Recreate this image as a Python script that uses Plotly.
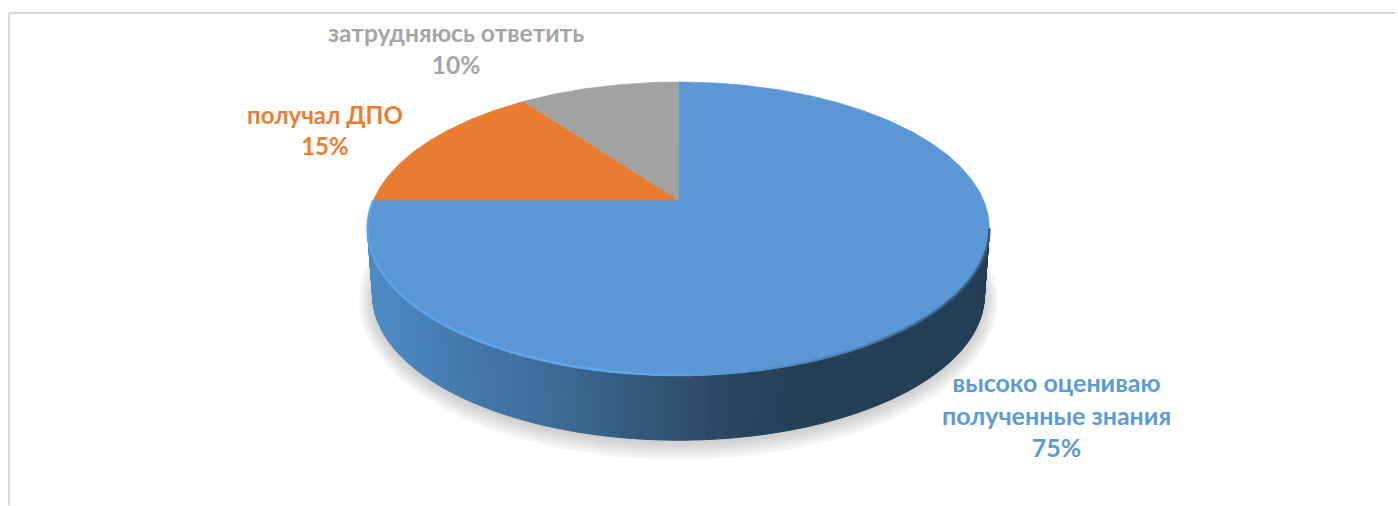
import numpy as np
import plotly.graph_objects as go

# ---- data ----
categories = ["высоко оцениваю<br>полученные знания", "получал ДПО", "затрудняюсь ответить"]
values = [75, 15, 10]
slice_colors = ["#5b97d5", "#e97c30", "#a2a2a2"]
label_colors = ["#5b9bd5", "#ed7d31", "#a5a5a5"]
label_x = [1056, 325, 456]
label_y = [414, 130, 48]
label_sizes = [25, 24, 24.6]

# ---- view geometry (perspective projection of the disc) ----
W, H = 1398, 506
CX, CY = 678.5, 200.0
A, C, K = 305.0, 141.0, 0.1945
A2, C2, CY2 = 300.0, 139.5, 267.0


def project(theta, a=A, c=C, cy=CY, grow=0.0):
    """theta: radians clockwise from 12 o'clock"""
    X, Y = np.sin(theta), np.cos(theta)
    d = 1 + K * Y
    return CX + (a + grow) * X / d, cy - (c + grow) * Y / d


def mix(stops, x):
    xs = [s[0] for s in stops]
    r = np.interp(x, xs, [s[1][0] for s in stops])
    g = np.interp(x, xs, [s[1][1] for s in stops])
    b = np.interp(x, xs, [s[1][2] for s in stops])
    return f"rgb({r:.0f},{g:.0f},{b:.0f})"


wall_stops = [(370, (78, 138, 197)), (470, (66, 120, 170)), (560, (60, 106, 148)),
              (680, (47, 80, 112)), (725, (41, 70, 99)), (790, (37, 63, 88)), (990, (36, 62, 85))]
rim_stops = [(365, (92, 165, 235)), (640, (98, 170, 238)), (730, (91, 151, 213)),
             (840, (80, 132, 186)), (930, (62, 108, 154)), (990, (52, 90, 128))]

fig = go.Figure()


def poly(x, y, color, line=0.0):
    fig.add_trace(go.Scatter(
        x=x, y=y, mode="lines", fill="toself", fillcolor=color,
        line=dict(color=color, width=line) if line else dict(width=0),
        hoverinfo="skip", showlegend=False))


fractions = np.cumsum([0] + values) / sum(values)
angles = fractions * 2 * np.pi
# the disc's silhouette turns at the widest point of the projected rim
turn = np.arccos(-K)

# soft shadow under the body
ring = np.linspace(0, 2 * np.pi, 240)
for g in np.arange(14, 0, -1.5):
    sx, sy = project(ring, A2, C2, CY2 + 3, grow=g)
    poly(sx, sy, "rgba(110,110,110,0.035)")

# side wall: only the front arc of the largest slice is visible
front = np.linspace(turn, 2 * np.pi - turn, 200)
for t0, t1 in zip(front[:-1], front[1:]):
    tx0, ty0 = project(np.array([t0, t1]))
    bx0, by0 = project(np.array([t0, t1]), A2, C2, CY2)
    poly([tx0[0], tx0[1], bx0[1], bx0[0], tx0[0]],
         [ty0[0], ty0[1], by0[1], by0[0], ty0[0]],
         mix(wall_stops, (tx0[0] + tx0[1]) / 2), line=1.0)

# top face slices
for i, col in enumerate(slice_colors):
    th = np.linspace(angles[i], angles[i + 1], max(int(values[i] * 6), 12))
    rx, ry = project(th)
    poly(np.r_[CX, rx, CX], np.r_[CY, ry, CY], col, line=0.6)

# bevel highlight along the front rim
rim = np.linspace(turn, angles[1], 180)
rx, ry = project(rim)
for j in range(len(rim) - 1):
    fig.add_trace(go.Scatter(
        x=rx[j:j + 2], y=ry[j:j + 2], mode="lines",
        line=dict(color=mix(rim_stops, rx[j]), width=2.4),
        hoverinfo="skip", showlegend=False))

# labels
for name, val, col, lx, ly, fs in zip(categories, values, label_colors, label_x, label_y, label_sizes):
    fig.add_annotation(x=lx, y=ly, xref="x", yref="y", text=f"<b>{name}<br>{val}%</b>",
                       showarrow=False, align="center", xanchor="center", yanchor="middle",
                       font=dict(family="Lato, Open Sans, sans-serif", size=fs, color=col))

# chart frame
frame = dict(color="#d9d9d9", width=2)
fig.add_shape(type="line", x0=9, y0=13, x1=1396, y1=13, xref="x", yref="y", line=frame)
fig.add_shape(type="line", x0=9, y0=13, x1=9, y1=505, xref="x", yref="y", line=frame)

fig.update_layout(
    width=W, height=H, margin=dict(l=0, r=0, t=0, b=0),
    paper_bgcolor="white", plot_bgcolor="white", showlegend=False,
    xaxis=dict(range=[0, W], visible=False, fixedrange=True),
    yaxis=dict(range=[H, 0], visible=False, fixedrange=True),
)
fig.write_html("out.html", config={"displayModeBar": False},
               post_script="document.body.style.margin='0';document.body.style.overflow='hidden';")
